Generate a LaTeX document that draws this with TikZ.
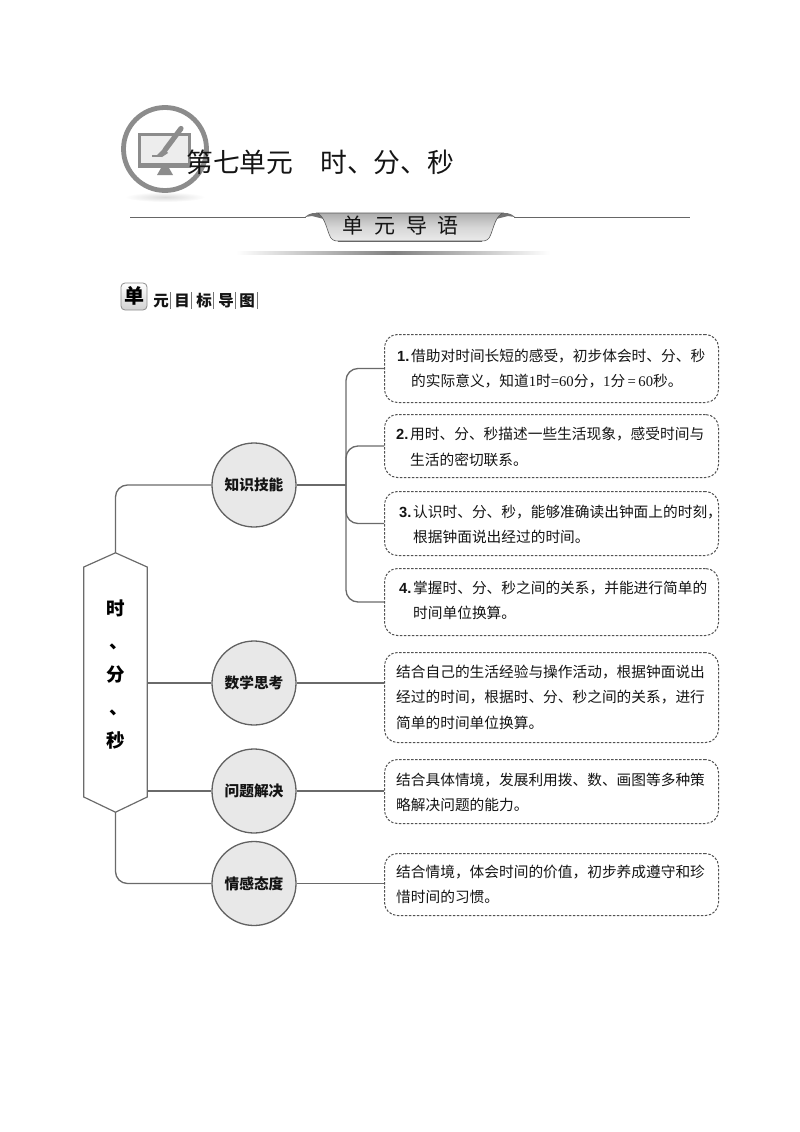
\documentclass[tikz,border=0pt]{standalone}
\usepackage{fontspec}
\setmainfont{Noto Sans CJK SC}
\newfontfamily\serifd{Liberation Serif}
\newfontfamily\sansd{Liberation Sans}
\usetikzlibrary{calc}
\definecolor{ink}{HTML}{141414}
\definecolor{conn}{HTML}{6A6A6A}
\definecolor{iconc}{HTML}{8C8C8C}
\newcommand{\numlab}[1]{\makebox[14pt][l]{\sansd\bfseries #1}}
\newcommand{\indentlab}{\hspace*{14pt}}
\tikzset{
  dashbox/.style={draw=black!68,line width=1pt,rounded corners=13pt,dash pattern=on 2.4pt off 1.6pt,minimum width=334pt,inner sep=0pt,anchor=north west},
  bodytext/.style={anchor=west,inner sep=0pt,align=left,text=ink,font=\fontsize{14.7}{25.5}\selectfont},
  topic/.style={circle,draw=black!62,line width=1.3pt,fill=black!9,minimum size=84pt,inner sep=0pt,text=ink,font=\bfseries\fontsize{14.7}{18}\selectfont},
  link/.style={draw=conn,line width=1.35pt},
  curved/.style={link,rounded corners=12pt},
  hexframe/.style={inner sep=0pt,minimum width=63pt,minimum height=259pt},
  hexlabel/.style={inner sep=0pt,align=center,text=black,font=\bfseries\fontsize{18.5}{33}\selectfont},
  navchar/.style={inner sep=0pt,text=ink,font=\bfseries\fontsize{15.5}{16}\selectfont},
  navbar/.style={draw=black!55,line width=0.7pt},
}
\begin{document}
\begin{tikzpicture}[x=1pt,y=-1pt]
\useasboundingbox (0,0) rectangle (800,1132);
% icon
\shade[inner color=black!14,outer color=white,draw=none] (165,197) ellipse (40 and 5);
\fill[white] (100,100) rectangle (230,192);
\draw[iconc,line width=4.8pt] (165,149) circle (41.5);
\filldraw[fill=black!7,draw=iconc,line width=3pt] (139.5,134.5) rectangle (189.5,165);
\fill[iconc] (138,163) rectangle (191,168);
\fill[iconc] (161,168) -- (169,168) -- (173,175) -- (157,175) -- cycle;
\draw[iconc,line width=5.2pt,line cap=round] (181,128.5) -- (165,150);
\fill[iconc] (164,148) -- (160,152) -- (156,156) -- (162,157) -- (168,153) -- cycle;
\fill[iconc] (152,155) rectangle (161,156.5);
% title
\node[inner sep=0pt,anchor=west,text=ink,font=\fontsize{26.8}{30}\selectfont] (title) at (186,162) {第七单元\hspace{27pt}时、分、秒};
% banner
\draw[black!60,line width=0.9pt] (130,217) -- (306,217);
\draw[black!60,line width=0.9pt] (514,217) -- (690,217);
\fill[black!55] (305,217) .. controls (309,213) and (315,212) .. (320,214) -- (324,219) -- (312,216) -- cycle;
\fill[black!55] (515,217) .. controls (511,213) and (505,212) .. (500,214) -- (496,219) -- (508,216) -- cycle;
\shade[top color=black!32,bottom color=black!8,middle color=black!16,draw=black!65,line width=0.6pt]
 (317,213) .. controls (324,216) and (326,226) .. (329,234) .. controls (331,240) and (334,241) .. (338,241)
 -- (482,241) .. controls (486,241) and (489,240) .. (491,234) .. controls (494,226) and (496,216) .. (503,213) -- cycle;
\draw[black!60,line width=1pt] (338,241) -- (482,241);
\foreach \cx/\ch in {352.5/单,384.5/元,416.5/导,447.5/语}
  \node[inner sep=0pt,text=ink,font=\fontsize{21}{24}\selectfont] at (\cx,226) {\ch};
\shade[left color=white,right color=white,middle color=black!50] (236,251) rectangle (550,254);
% nav heading
\shade[top color=white,bottom color=black!18,draw=black!45,line width=0.8pt,rounded corners=4pt] (121,283) rectangle (147,310);
\node[inner sep=0pt,text=black,font=\bfseries\fontsize{20}{22}\selectfont] (navhead) at (134,296) {单};
\node[navchar] (nav1) at (161,301) {元};
\node[navchar] (nav2) at (182,301) {目};
\node[navchar] (nav3) at (204,301) {标};
\node[navchar] (nav4) at (226,301) {导};
\node[navchar] (nav5) at (247,301) {图};
\foreach \bx in {170,191,213,235,257} \draw[navbar] (\bx,292) -- (\bx,309);
% boxes
\node[dashbox,minimum height=68pt] (b1) at (384,334) {};
\node[dashbox,minimum height=63pt] (b2) at (384,414) {};
\node[dashbox,minimum height=64pt] (b3) at (384,491) {};
\node[dashbox,minimum height=67pt] (b4) at (384,568) {};
\node[dashbox,minimum height=90pt] (b5) at (384,652) {};
\node[dashbox,minimum height=64pt] (b6) at (384,759) {};
\node[dashbox,minimum height=62pt] (b7) at (384,853) {};
\node[bodytext] (t1) at (397,368.5) {\numlab{1.}借助对时间长短的感受，初步体会时、分、秒\\\indentlab 的实际意义，知道{\serifd 1}时{\serifd =60}分，{\serifd 1}分{\serifd\,=\,60}秒。};
\node[bodytext] (t2) at (396,447) {\numlab{2.}用时、分、秒描述一些生活现象，感受时间与\\\indentlab 生活的密切联系。};
\node[bodytext] (t3) at (399,524.5) {\numlab{3.}认识时、分、秒，能够准确读出钟面上的时刻，\\\indentlab 根据钟面说出经过的时间。};
\node[bodytext] (t4) at (399,600.5) {\numlab{4.}掌握时、分、秒之间的关系，并能进行简单的\\\indentlab 时间单位换算。};
\node[bodytext] (t5) at (396,697) {结合自己的生活经验与操作活动，根据钟面说出\\经过的时间，根据时、分、秒之间的关系，进行\\简单的时间单位换算。};
\node[bodytext] (t6) at (396,792.5) {结合具体情境，发展利用拨、数、画图等多种策\\略解决问题的能力。};
\node[bodytext] (t7) at (396,884.5) {结合情境，体会时间的价值，初步养成遵守和珍\\惜时间的习惯。};
% topics
\node[topic] (c1) at (254,485) {知识技能};
\node[topic] (c2) at (254,683) {数学思考};
\node[topic] (c3) at (254,791) {问题解决};
\node[topic] (c4) at (254,883.5) {情感态度};
% hexagon
\node[hexframe] (hex) at (115.5,682.5) {};
\node[hexlabel] (hext) at (115.5,674.5) {时\\\hspace*{7pt}、\\分\\\hspace*{7pt}、\\秒};
\draw[black!58,line width=1.2pt] (hex.north) -- (hex.north east |- 0,567) -- (hex.south east |- 0,797) -- (hex.south) -- (hex.south west |- 0,797) -- (hex.north west |- 0,567) -- cycle;
% connectors
\coordinate (trunk) at (346,485);
\draw[curved] (hex.north) |- (c1.west);
\draw[curved] (hex.south) |- (c4.west);
\draw[link] (hex.east |- c2.west) -- (c2.west);
\draw[link] (hex.east |- c3.west) -- (c3.west);
\draw[link] (c1.east) -- (trunk);
\draw[curved] (b1.west) -| (trunk);
\draw[curved] (trunk) |- (b2.west);
\draw[curved] (trunk) |- (b3.west);
\draw[curved] (trunk) |- (b4.west);
\draw[link] (c2.east) -- (b5.west |- c2.east);
\draw[link] (c3.east) -- (b6.west |- c3.east);
\draw[link] (c4.east) -- (b7.west |- c4.east);
\end{tikzpicture}
\end{document}
